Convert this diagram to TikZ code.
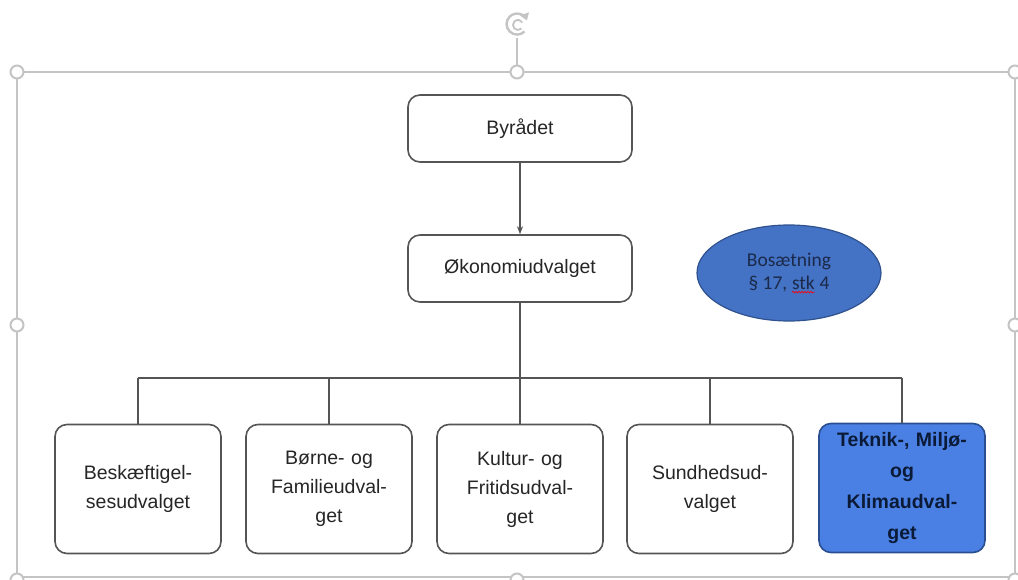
\documentclass[tikz,border=0pt]{standalone}
\usepackage{fontspec}
\setmainfont{Liberation Sans}
\newfontfamily\calib{Carlito}
\usetikzlibrary{arrows.meta,shapes.geometric,decorations.pathmorphing}
\definecolor{frameg}{HTML}{C4C4C4}
\definecolor{boxline}{HTML}{555555}
\definecolor{ellfill}{HTML}{4472C4}
\definecolor{elldraw}{HTML}{2F528F}
\definecolor{elltext}{HTML}{1B2A4A}
\definecolor{bluebox}{HTML}{4A80E4}
\definecolor{blueline}{HTML}{2A4F90}
\definecolor{bluetext}{HTML}{0B1A36}
\newcommand\redwave[1]{\tikz[baseline=(w.base),x=1pt,y=1pt]{\node[rectangle,inner sep=0pt,outer sep=0pt,draw=none,fill=none,minimum size=0pt,text width=,align=left] (w) {#1};\draw[red, line width=0.7pt, decorate, decoration={snake, amplitude=0.8pt, segment length=3pt}] ([yshift=-3pt]w.base west) -- ([yshift=-3pt]w.base east);}}
\tikzset{
  orgbox/.style={draw=boxline, line width=1.6pt, rounded corners=12pt, fill=white,
    align=center, inner sep=0pt, font=\fontsize{19.5}{29}\selectfont, text=black!85},
  topbox/.style={orgbox, minimum width=224pt, minimum height=67pt},
  lowbox/.style={orgbox, minimum width=166pt, minimum height=129pt, text width=160pt},
  conn/.style={draw=boxline, line width=1.8pt},
  frameline/.style={draw=frameg, line width=2pt},
  handle/.style={circle, draw=frameg, line width=2pt, fill=white, minimum size=13pt, inner sep=0pt}
}
\begin{document}
\begin{tikzpicture}[x=1pt,y=-1pt]
\useasboundingbox (0,0) rectangle (1018,580);
\clip (0,0) rectangle (1018,580);
% selection frame
\draw[frameline] (17,72) rectangle (1015,577);
\draw[frameline] (517,38) -- (517,66);
\node[handle] (h1) at (17,72) {};
\node[handle] (h2) at (517,72) {};
\node[handle] (h3) at (1015,72) {};
\node[handle] (h4) at (17,325) {};
\node[handle] (h5) at (1015,325) {};
\node[handle] (h6) at (17,580) {};
\node[handle] (h7) at (517,580) {};
\node[handle] (h8) at (1015,580) {};
% rotation handle
\draw[frameg, line width=2.4pt, -{Triangle[length=7pt,width=9pt]}] (524.5,31.5) arc[start angle=-45, end angle=-340, radius=10.5pt];
\draw[frameg, line width=1.8pt] (521.5,28.5) arc[start angle=-45, end angle=-330, radius=5pt];
% boxes
\node[topbox] (byr) at (520,128.5) {Byrådet};
\node[topbox] (oko) at (520,268.5) {Økonomiudvalget};
\node[lowbox] (b1) at (138,489) {Beskæftigel-\\sesudvalget};
\node[lowbox] (b2) at (329,489) {Børne- og\\Familieudval-\\get};
\node[lowbox] (b3) at (520,489) {Kultur- og\\Fritidsudval-\\get};
\node[lowbox] (b4) at (710,489) {Sundhedsud-\\valget};
\node[lowbox, fill=bluebox, draw=blueline, text=bluetext, font=\bfseries\fontsize{19.5}{31}\selectfont] (b5) at (902,488) {Teknik-, Miljø-\\og\\Klimaudval-\\get};
% ellipse
\node[ellipse, fill=ellfill, draw=elldraw, line width=1.2pt, minimum width=184pt, minimum height=96pt, inner sep=0pt,
  align=center, text=elltext, font=\calib\fontsize{19.5}{23}\selectfont] (bos) at (789,273) {Bosætning\\§ 17, \redwave{stk} 4};
% connectors
\coordinate (bus) at (520,378);
\draw[conn, -{Stealth[length=8pt,width=6pt]}] (byr.south) -- (oko.north);
\draw[conn] (oko.south) -- (oko.south |- bus);
\draw[conn] (b1.north |- bus) -- (b5.north |- bus);
\draw[conn] (b1.north) -- (b1.north |- bus);
\draw[conn] (b2.north) -- (b2.north |- bus);
\draw[conn] (b3.north) -- (b3.north |- bus);
\draw[conn] (b4.north) -- (b4.north |- bus);
\draw[conn] (b5.north) -- (b5.north |- bus);
\end{tikzpicture}
\end{document}
